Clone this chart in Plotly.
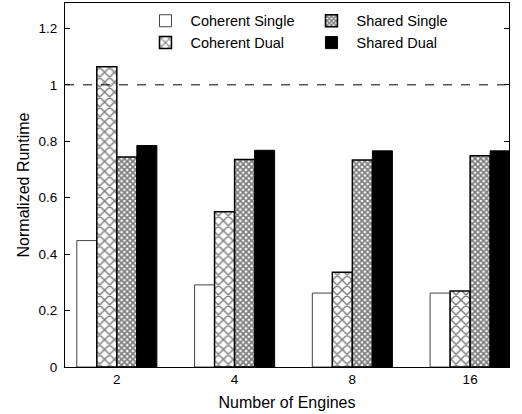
import plotly.graph_objects as go

engines = ["2", "4", "8", "16"]
coherent_single = [0.448, 0.291, 0.262, 0.262]
coherent_dual = [1.064, 0.550, 0.336, 0.269]
shared_single = [0.744, 0.735, 0.734, 0.749]
shared_dual = [0.785, 0.768, 0.766, 0.766]
y_ticks = [0, 0.2, 0.4, 0.6, 0.8, 1.0, 1.2]
y_tick_labels = ["0", "0.2", "0.4", "0.6", "0.8", "1", "1.2"]
baseline = 1.0

font = dict(family="Liberation Sans, Arial, sans-serif", size=13.5, color="black")

fig = go.Figure()
fig.add_bar(x=engines, y=coherent_single, name="Coherent Single", legendrank=1,
            marker=dict(color="white", line=dict(color="#444444", width=1)))
fig.add_bar(x=engines, y=coherent_dual, name="Coherent Dual", legendrank=3,
            marker=dict(color="white", line=dict(color="black", width=1.5),
                        pattern=dict(shape="x", fgcolor="black", bgcolor="white",
                                     size=7, solidity=0.38)))
fig.add_bar(x=engines, y=shared_single, name="Shared Single", legendrank=2,
            marker=dict(color="white", line=dict(color="black", width=1.5),
                        pattern=dict(shape="x", fgcolor="black", bgcolor="white",
                                     size=4, solidity=0.7)))
fig.add_bar(x=engines, y=shared_dual, name="Shared Dual", legendrank=4,
            marker=dict(color="black", line=dict(color="black", width=1)))

fig.add_shape(type="line", xref="paper", x0=0, x1=1, yref="y", y0=baseline, y1=baseline,
              line=dict(color="black", width=1, dash="dash"))

fig.update_layout(
    width=522, height=414,
    margin=dict(l=65, r=13, t=3, b=47, autoexpand=False),
    paper_bgcolor="white", plot_bgcolor="white",
    font=font,
    barmode="group", bargap=0.32, bargroupgap=0,
    showlegend=True,
    legend=dict(orientation="h", x=0.17, xanchor="left", y=0.995, yanchor="top",
                entrywidth=111, font=dict(size=14.5), bgcolor="rgba(0,0,0,0)",
                traceorder="normal", tracegroupgap=0, itemwidth=40),
    xaxis=dict(type="category", range=[-0.44, 3.33], showline=True, mirror=True,
               linecolor="black", linewidth=1, ticks="", showgrid=False,
               automargin=False,
               title=dict(text="Number of Engines", standoff=10), tickfont=font),
    yaxis=dict(range=[0, 1.29], showline=True, mirror="ticks", linecolor="black",
               linewidth=1, ticks="inside", ticklen=5, tickcolor="black",
               tickvals=y_ticks, ticktext=y_tick_labels, showgrid=False, zeroline=False,
               automargin=False,
               title=dict(text="Normalized Runtime", standoff=4), tickfont=font,
               ticklabelstandoff=4),
)

fig.write_html("out.html", config={"displayModeBar": False},
               post_script="document.body.style.margin='0px';")
